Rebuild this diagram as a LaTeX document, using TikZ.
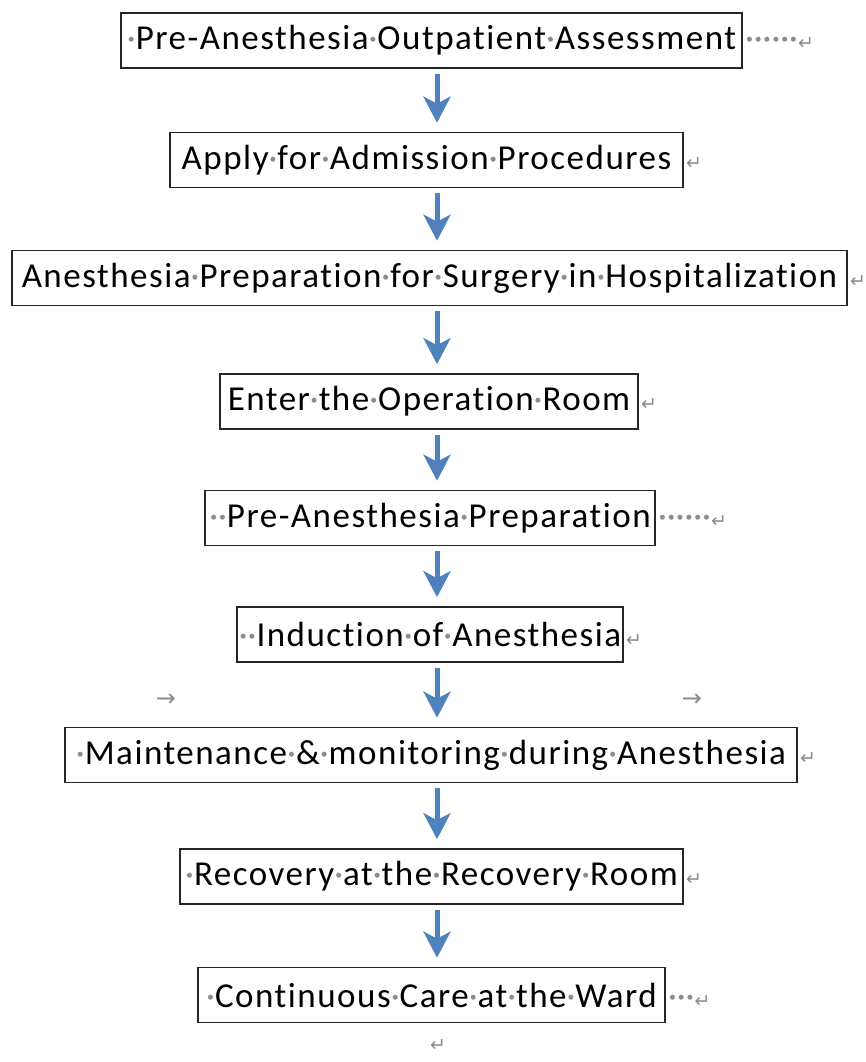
\documentclass[tikz,border=0pt]{standalone}
\usepackage{fontspec}
\setmainfont{Carlito}[Ligatures={NoCommon,NoRequired,NoContextual}]
\newfontfamily\dvs{DejaVu Sans}
\usetikzlibrary{arrows.meta}
\definecolor{arrowblue}{HTML}{4F81BD}
\definecolor{markgray}{HTML}{8C8C8C}
\newcommand\wsp{{\color{markgray}·}}
\newcommand\retm{{\color{markgray}\dvs\fontsize{19}{19}\selectfont ↵}}
\newcommand\tabm{{\color{markgray}\dvs\fontsize{24}{24}\selectfont →}}
\begin{document}
\begin{tikzpicture}[x=1pt,y=-1pt,
  stepbox/.style={draw=black!85, line width=1.6pt, inner sep=0pt, minimum height=55pt, font=\fontsize{35}{40}\selectfont\addfontfeatures{LetterSpace=4.3}},
  trail/.style={anchor=base west, inner sep=0pt, xshift=2pt, font=\fontsize{35}{40}\selectfont},
  tabmark/.style={inner sep=0pt},
  flow/.style={draw=arrowblue, line width=5pt, -{Stealth[length=26pt,width=27pt,inset=7pt]}, shorten <=5pt, shorten >=9pt}
]
\useasboundingbox (0,0) rectangle (866,1062);
\coordinate (ax) at (437,0);

\node[stepbox, minimum width=621pt] (b1) at (431.5,40.5) {\wsp Pre-Anesthesia\wsp Outpatient\wsp Assessment};
\node[stepbox, minimum width=513pt] (b2) at (426.5,160) {Apply\wsp for\wsp Admission\wsp Procedures};
\node[stepbox, minimum width=835pt] (b3) at (429.5,278) {Anesthesia\wsp Preparation\wsp for\wsp Surgery\wsp in\wsp Hospitalization};
\node[stepbox, minimum width=418pt] (b4) at (429,401.5) {Enter\wsp the\wsp Operation\wsp Room};
\node[stepbox, minimum width=450pt] (b5) at (430,518) {\wsp\wsp Pre-Anesthesia\wsp Preparation};
\node[stepbox, minimum width=386pt] (b6) at (430,634.5) {\wsp\wsp Induction\wsp of\wsp Anesthesia};
\node[stepbox, minimum width=732pt] (b7) at (431,755) {\wsp Maintenance\wsp\&\wsp monitoring\wsp during\wsp Anesthesia};
\node[stepbox, minimum width=503pt] (b8) at (431.5,876.5) {\wsp Recovery\wsp at\wsp the\wsp Recovery\wsp Room};
\node[stepbox, minimum width=467pt] (b9) at (431.5,995) {\wsp Continuous\wsp Care\wsp at\wsp the\wsp Ward};

\node[trail] (m1) at (b1.base east) {\wsp\wsp\wsp\wsp\wsp\wsp\retm};
\node[trail] (m2) at (b2.base east) {\retm};
\node[trail] (m3) at (b3.base east) {\retm};
\node[trail] (m4) at (b4.base east) {\retm};
\node[trail] (m5) at (b5.base east) {\wsp\wsp\wsp\wsp\wsp\wsp\retm};
\node[trail] (m6) at (b6.base east) {\retm};
\node[trail] (m7) at (b7.base east) {\retm};
\node[trail] (m8) at (b8.base east) {\retm};
\node[trail] (m9) at (b9.base east) {\wsp\wsp\wsp\retm};

\node[tabmark] (t1) at (166,700) {\tabm};
\node[tabmark] (t2) at (692,700) {\tabm};
\node[tabmark] (end) at (438,1046) {\retm};

\draw[flow] (b1.south -| ax) -- (b2.north -| ax);
\draw[flow] (b2.south -| ax) -- (b3.north -| ax);
\draw[flow] (b3.south -| ax) -- (b4.north -| ax);
\draw[flow] (b4.south -| ax) -- (b5.north -| ax);
\draw[flow] (b5.south -| ax) -- (b6.north -| ax);
\draw[flow] (b6.south -| ax) -- (b7.north -| ax);
\draw[flow] (b7.south -| ax) -- (b8.north -| ax);
\draw[flow] (b8.south -| ax) -- (b9.north -| ax);
\end{tikzpicture}
\end{document}
